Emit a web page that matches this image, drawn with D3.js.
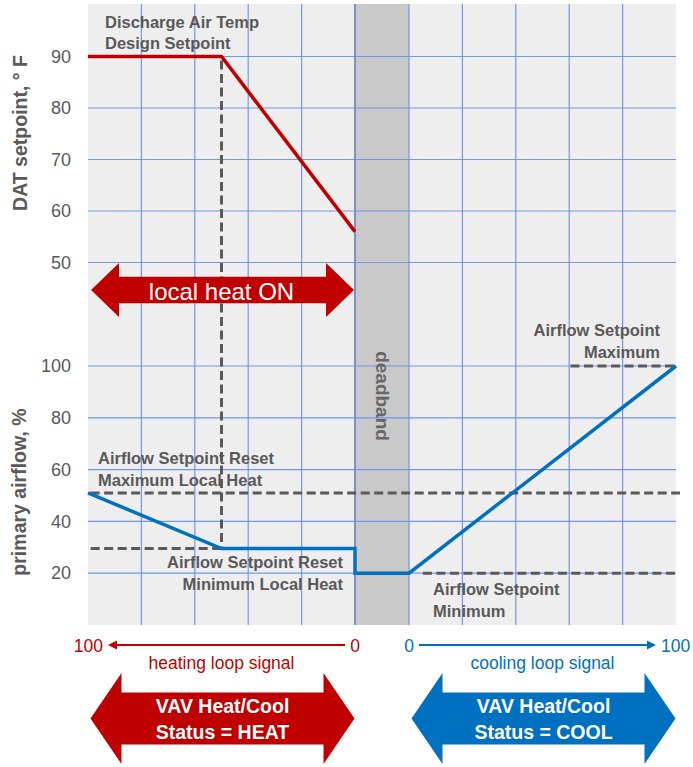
<!DOCTYPE html>
<html>
<head>
<meta charset="utf-8">
<script src="https://cdn.jsdelivr.net/npm/d3@7"></script>
<style>
  body { margin: 0; background: #fff; }
  svg { display: block; font-family: Arial, "Liberation Sans", sans-serif; }
</style>
</head>
<body>
<div id="chart"></div>
<script>
// heating loop signal runs 100 -> 0 left to right, cooling loop 0 -> 100
const heatGrid = [80, 60, 40, 20, 0];
const coolGrid = [0, 20, 40, 60, 80];
const datTicks = [90, 80, 70, 60, 50];
const airTicks = [100, 80, 60, 40, 20];

// discharge air temp setpoint vs heating signal
const datSignal = [100, 50, 0];
const datSetpoint = [90, 90, 56];

// primary airflow setpoint across heating, deadband and cooling
const airSide = ["heat", "heat", "heat", "heat", "cool", "cool"];
const airSignal = [100, 50, 0, 0, 0, 100];
const airPct = [51, 29.5, 29.5, 20, 20, 100];

const designHeatSignal = 50;
const designDat = 90;
const resetMaxAirflow = 51;
const resetMinAirflow = 29.5;
const minAirflow = 20;
const maxAirflow = 100;

const red = "#c00000";
const blue = "#0070c0";
const grey = "#595959";

const width = 693;
const height = 767;
const plotTop = 4;
const plotBottom = 625;

const heatX = d3.scaleLinear().domain([100, 0]).range([88, 355]);
const coolX = d3.scaleLinear().domain([0, 100]).range([409, 676]);
const datY = d3.scaleLinear().domain([50, 100]).range([262.5, 5]);
const airY = d3.scaleLinear().domain([0, 100]).range([625, 366]);
const sideX = (side, v) => (side === "heat" ? heatX(v) : coolX(v));

const svg = d3
    .select("#chart")
    .append("svg")
    .attr("width", width)
    .attr("height", height)
    .attr("viewBox", [0, 0, width, height]);

// plot background + deadband
svg.append("rect")
    .attr("x", heatX(100))
    .attr("y", plotTop)
    .attr("width", coolX(100) - heatX(100))
    .attr("height", plotBottom - plotTop)
    .attr("fill", "#eeeeee");

svg.append("rect")
    .attr("x", heatX(0))
    .attr("y", plotTop)
    .attr("width", coolX(0) - heatX(0))
    .attr("height", plotBottom - plotTop)
    .attr("fill", "#c9c9c9");

// grid
const grid = svg.append("g").attr("stroke", "#7196ec").attr("stroke-width", 1.2);

grid.selectAll(".hdat")
    .data(datTicks)
    .enter()
    .append("line")
    .attr("x1", heatX(100))
    .attr("x2", coolX(100))
    .attr("y1", (d) => datY(d))
    .attr("y2", (d) => datY(d));

grid.selectAll(".hair")
    .data(airTicks)
    .enter()
    .append("line")
    .attr("x1", heatX(100))
    .attr("x2", coolX(100))
    .attr("y1", (d) => airY(d))
    .attr("y2", (d) => airY(d));

grid.selectAll(".vheat")
    .data(heatGrid)
    .enter()
    .append("line")
    .attr("x1", (d) => heatX(d))
    .attr("x2", (d) => heatX(d))
    .attr("y1", plotTop)
    .attr("y2", plotBottom)
    .attr("stroke", (d) => (d === 0 ? "#7b90c8" : null))
    .attr("stroke-width", (d) => (d === 0 ? 2 : null));

grid.selectAll(".vcool")
    .data(coolGrid)
    .enter()
    .append("line")
    .attr("x1", (d) => coolX(d))
    .attr("x2", (d) => coolX(d))
    .attr("y1", plotTop)
    .attr("y2", plotBottom);

// y axes (labels only)
function styleAxis(g) {
    g.select(".domain").remove();
    g.attr("font-size", 18).attr("font-family", "Arial, 'Liberation Sans', sans-serif");
    g.selectAll("text").attr("fill", grey);
}

svg.append("g")
    .attr("transform", `translate(${heatX(100)},0)`)
    .call(d3.axisLeft(datY).tickValues(datTicks).tickSize(0).tickPadding(17))
    .call(styleAxis);

svg.append("g")
    .attr("transform", `translate(${heatX(100)},0)`)
    .call(d3.axisLeft(airY).tickValues(airTicks).tickSize(0).tickPadding(17))
    .call(styleAxis);

svg.append("text")
    .attr("transform", `translate(26.5,${133}) rotate(-90)`)
    .attr("text-anchor", "middle")
    .attr("font-size", 19.5)
    .attr("font-weight", "bold")
    .attr("fill", grey)
    .text("DAT setpoint, \u00B0 F");

svg.append("text")
    .attr("transform", `translate(25.5,${492}) rotate(-90)`)
    .attr("text-anchor", "middle")
    .attr("font-size", 19.5)
    .attr("font-weight", "bold")
    .attr("fill", grey)
    .text("primary airflow, %");

svg.append("text")
    .attr("transform", `translate(376,${396}) rotate(90)`)
    .attr("text-anchor", "middle")
    .attr("font-size", 19)
    .attr("font-weight", "bold")
    .attr("fill", "#666666")
    .text("deadband");

// dashed reference lines
const dashed = [
    [[heatX(designHeatSignal), datY(designDat) + 4], [heatX(designHeatSignal), airY(resetMinAirflow)]],
    [[heatX(99), airY(resetMinAirflow)], [heatX(designHeatSignal), airY(resetMinAirflow)]],
    [[heatX(99), airY(resetMaxAirflow)], [coolX(101.5), airY(resetMaxAirflow)]],
    [[coolX(5.2), airY(minAirflow)], [coolX(100), airY(minAirflow)]],
    [[coolX(60.5), airY(maxAirflow)], [coolX(100), airY(maxAirflow)]],
];

svg.selectAll(".ref")
    .data(dashed)
    .enter()
    .append("path")
    .attr("class", "ref")
    .attr("d", d3.line())
    .attr("fill", "none")
    .attr("stroke", grey)
    .attr("stroke-width", 3)
    .attr("stroke-dasharray", "9,4.5");

// DAT setpoint line
const datData = datSignal.map((s, i) => ({ s, v: datSetpoint[i] }));
svg.append("path")
    .datum(datData)
    .attr("fill", "none")
    .attr("stroke", red)
    .attr("stroke-width", 3.5)
    .attr("d", d3.line().x((d) => heatX(d.s)).y((d) => datY(d.v)));

// airflow setpoint line
const airData = airSignal.map((s, i) => ({ side: airSide[i], s, v: airPct[i] }));
svg.append("path")
    .datum(airData)
    .attr("fill", "none")
    .attr("stroke", blue)
    .attr("stroke-width", 3.5)
    .attr("d", d3.line().x((d) => sideX(d.side, d.s)).y((d) => airY(d.v)));

// block double arrows
function doubleArrow(x0, x1, yc, head, headHalf, shaftHalf) {
    return [
        [x0, yc], [x0 + head, yc - headHalf], [x0 + head, yc - shaftHalf],
        [x1 - head, yc - shaftHalf], [x1 - head, yc - headHalf], [x1, yc],
        [x1 - head, yc + headHalf], [x1 - head, yc + shaftHalf],
        [x0 + head, yc + shaftHalf], [x0 + head, yc + headHalf],
    ];
}
const closed = (pts) => d3.line()(pts) + "Z";

svg.append("path")
    .attr("d", closed(doubleArrow(heatX(100) + 3, heatX(0) - 1, 290, 28, 27, 13.3)))
    .attr("fill", red);

svg.append("text")
    .attr("x", heatX(designHeatSignal))
    .attr("y", 299.5)
    .attr("text-anchor", "middle")
    .attr("font-size", 24)
    .attr("fill", "#fff")
    .text("local heat ON");

// annotations
const notes = [
    { x: 105, y: 27.5, anchor: "start", t: "Discharge Air Temp" },
    { x: 105, y: 48.5, anchor: "start", t: "Design Setpoint" },
    { x: 98, y: 464, anchor: "start", t: "Airflow Setpoint Reset" },
    { x: 98, y: 486, anchor: "start", t: "Maximum Local Heat" },
    { x: 343, y: 567.5, anchor: "end", t: "Airflow Setpoint Reset" },
    { x: 343, y: 589.5, anchor: "end", t: "Minimum Local Heat" },
    { x: 660, y: 336, anchor: "end", t: "Airflow Setpoint" },
    { x: 660, y: 358, anchor: "end", t: "Maximum" },
    { x: 433, y: 595, anchor: "start", t: "Airflow Setpoint" },
    { x: 433, y: 617, anchor: "start", t: "Minimum" },
];

svg.selectAll(".note")
    .data(notes)
    .enter()
    .append("text")
    .attr("class", "note")
    .attr("x", (d) => d.x)
    .attr("y", (d) => d.y)
    .attr("text-anchor", (d) => d.anchor)
    .attr("font-size", 16.5)
    .attr("font-weight", "bold")
    .attr("fill", grey)
    .text((d) => d.t);

// loop signal axes
const sigY = 645;
function signalAxis(x, color, from, to, labelFrom, labelTo, caption) {
    const xa = x(from);
    const xb = x(to);
    const dir = Math.sign(xb - xa);
    const start = xa + dir * 10;
    const tip = xb - dir * 20;
    svg.append("line")
        .attr("x1", start)
        .attr("x2", tip - dir * 4)
        .attr("y1", sigY)
        .attr("y2", sigY)
        .attr("stroke", color)
        .attr("stroke-width", 2);
    svg.append("path")
        .attr("d", closed([[tip, sigY], [tip - dir * 9, sigY - 4.5], [tip - dir * 9, sigY + 4.5]]))
        .attr("fill", color);
    svg.append("text")
        .attr("x", xa)
        .attr("y", sigY + 6.5)
        .attr("text-anchor", "middle")
        .attr("font-size", 17.5)
        .attr("fill", color)
        .text(labelFrom);
    svg.append("text")
        .attr("x", tip + dir * 5)
        .attr("y", sigY + 6.5)
        .attr("text-anchor", dir > 0 ? "start" : "end")
        .attr("font-size", 17.5)
        .attr("fill", color)
        .text(labelTo);
    svg.append("text")
        .attr("x", (xa + xb) / 2)
        .attr("y", 668.5)
        .attr("text-anchor", "middle")
        .attr("font-size", 17.5)
        .attr("fill", color)
        .text(caption);
}

signalAxis(heatX, red, 0, 100, "0", "100", "heating loop signal");
signalAxis(coolX, blue, 0, 100, "0", "100", "cooling loop signal");

// status arrows
const status = [
    { x: heatX, from: 100, to: 0, color: red, t: "Status = HEAT" },
    { x: coolX, from: 0, to: 100, color: blue, t: "Status = COOL" },
];

status.forEach((d) => {
    const x0 = d.x(d.from) + 2.5;
    const x1 = d.x(d.to) - 0.5;
    svg.append("path")
        .attr("d", closed(doubleArrow(x0, x1, 718.5, 31, 45.5, 26)))
        .attr("fill", d.color);
    const cx = (x0 + x1) / 2;
    svg.append("text")
        .attr("x", cx)
        .attr("y", 713)
        .attr("text-anchor", "middle")
        .attr("font-size", 19.5)
        .attr("font-weight", "bold")
        .attr("fill", "#fff")
        .text("VAV Heat/Cool");
    svg.append("text")
        .attr("x", cx)
        .attr("y", 739)
        .attr("text-anchor", "middle")
        .attr("font-size", 19.5)
        .attr("font-weight", "bold")
        .attr("fill", "#fff")
        .text(d.t);
});
</script>
</body>
</html>
